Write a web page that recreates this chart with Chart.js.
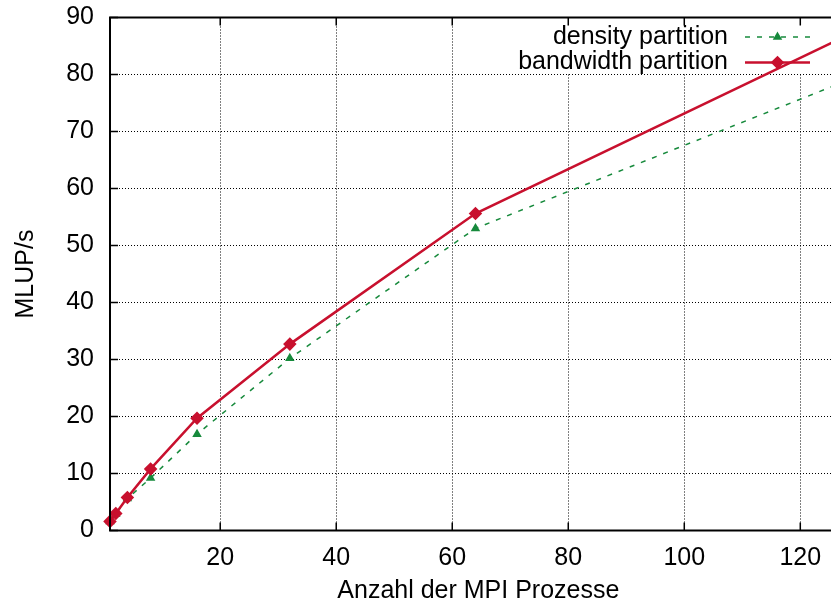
<!DOCTYPE html>
<html>
<head>
<meta charset="utf-8">
<script src="https://cdn.jsdelivr.net/npm/chart.js@4.4.1/dist/chart.umd.min.js"></script>
<style>
  html, body { margin: 0; padding: 0; background: #fff; overflow: hidden; }
  #wrap { width: 860px; height: 606px; }
</style>
</head>
<body>
<div id="wrap"><canvas id="chart"></canvas></div>
<script>
const processes = [1, 2, 4, 8, 16, 32, 64, 128];
const densityValues = [1.6, 2.9, 5.6, 9.2, 16.9, 30.2, 53.0, 78.9];
const bandwidthValues = [1.6, 3.0, 5.8, 10.8, 19.7, 32.7, 55.6, 86.8];
const xTickValues = [20, 40, 60, 80, 100, 120];
const yTickValues = [0, 10, 20, 30, 40, 50, 60, 70, 80, 90];

const red = "#c8102e";
const green = "#178a3c";
const fontFamily = "'Liberation Sans', Arial, sans-serif";
const fontSize = 25;

// gnuplot style: inward ticks on all sides plus a closed border
const frame = {
  id: "frame",
  afterDatasetsDraw(chart) {
    const { ctx, chartArea: a, scales } = chart;
    ctx.save();
    ctx.strokeStyle = "#000";
    ctx.lineWidth = 1.5;
    ctx.beginPath();
    for (const v of xTickValues) {
      const x = scales.x.getPixelForValue(v);
      ctx.moveTo(x, a.bottom); ctx.lineTo(x, a.bottom - 8);
      ctx.moveTo(x, a.top); ctx.lineTo(x, a.top + 8);
    }
    for (const v of yTickValues) {
      const y = scales.y.getPixelForValue(v);
      ctx.moveTo(a.left, y); ctx.lineTo(a.left + 8, y);
      ctx.moveTo(a.right, y); ctx.lineTo(a.right - 8, y);
    }
    ctx.stroke();
    ctx.lineWidth = 2;
    ctx.strokeRect(a.left, a.top, a.right - a.left, a.bottom - a.top);
    ctx.restore();
  },
};

// legend in gnuplot layout: opaque key, text right-aligned, sample to the right
const keyBox = {
  id: "keyBox",
  beforeDatasetsDraw(chart) {
    const { ctx } = chart;
    const textRight = 728;
    const sampleLeft = 745;
    const sampleRight = 810;
    const rows = [37, 62.5];
    ctx.save();
    ctx.fillStyle = "#fff";
    ctx.fillRect(512, 25, 308, 48);
    ctx.font = fontSize + "px " + fontFamily;
    ctx.textAlign = "right";
    ctx.textBaseline = "middle";
    chart.data.datasets.forEach((ds, i) => {
      const y = rows[i];
      ctx.fillStyle = "#000";
      ctx.fillText(ds.label, textRight, y);
      ctx.strokeStyle = ds.borderColor;
      ctx.fillStyle = ds.backgroundColor;
      ctx.lineWidth = ds.borderWidth;
      ctx.setLineDash(ds.borderDash || []);
      ctx.beginPath();
      ctx.moveTo(sampleLeft, y);
      ctx.lineTo(sampleRight, y);
      ctx.stroke();
      ctx.setLineDash([]);
      Chart.helpers.drawPoint(ctx, {
        pointStyle: ds.pointStyle,
        radius: ds.pointRadius,
        rotation: 0,
        borderWidth: 1,
      }, (sampleLeft + sampleRight) / 2, y);
    });
    ctx.restore();
  },
};

const gridStyle = {
  color: "#000",
  lineWidth: 1,
  drawTicks: false,
};

new Chart(document.getElementById("chart"), {
  type: "line",
  data: {
    labels: processes,
    datasets: [
      {
        label: "density partition",
        data: processes.map((p, i) => ({ x: p, y: densityValues[i] })),
        borderColor: green,
        backgroundColor: green,
        pointBackgroundColor: green,
        pointBorderColor: green,
        borderWidth: 1.5,
        borderDash: [5, 7],
        pointStyle: "triangle",
        pointRadius: 4,
        tension: 0,
        order: 2,
      },
      {
        label: "bandwidth partition",
        data: processes.map((p, i) => ({ x: p, y: bandwidthValues[i] })),
        borderColor: red,
        backgroundColor: red,
        pointBackgroundColor: red,
        pointBorderColor: red,
        borderWidth: 2.5,
        pointStyle: "rectRot",
        pointRadius: 5,
        tension: 0,
        order: 1,
      },
    ],
  },
  options: {
    responsive: true,
    maintainAspectRatio: false,
    animation: false,
    clip: false,
    layout: { padding: { top: 17.5, right: 13.3, bottom: 0, left: 0 } },
    scales: {
      x: {
        type: "linear",
        min: 1,
        max: 128,
        afterBuildTicks: (scale) => {
          scale.ticks = xTickValues.map((v) => ({ value: v }));
        },
        afterFit: (scale) => {
          scale.height = 75.5;
          scale.paddingLeft = 0;
          scale.paddingRight = 0;
        },
        grid: { ...gridStyle },
        border: { display: false, dash: [1, 2] },
        ticks: {
          color: "#000",
          padding: 13,
          maxRotation: 0,
          font: { family: fontFamily, size: fontSize },
        },
        title: {
          display: true,
          text: "Anzahl der MPI Prozesse",
          color: "#000",
          padding: { top: 0, bottom: 0 },
          font: { family: fontFamily, size: fontSize },
        },
      },
      y: {
        min: 0,
        max: 90,
        afterBuildTicks: (scale) => {
          scale.ticks = yTickValues.map((v) => ({ value: v }));
        },
        afterFit: (scale) => {
          scale.width = 110;
          scale.paddingTop = 0;
          scale.paddingBottom = 0;
        },
        grid: { ...gridStyle },
        border: { display: false, dash: [1, 2] },
        ticks: {
          color: "#000",
          padding: 16,
          font: { family: fontFamily, size: fontSize },
        },
        title: {
          display: true,
          text: "MLUP/s",
          color: "#000",
          padding: { top: 11, bottom: 0 },
          font: { family: fontFamily, size: fontSize },
        },
      },
    },
    plugins: {
      legend: { display: false },
      tooltip: { enabled: false },
    },
  },
  plugins: [frame, keyBox],
});
</script>
</body>
</html>
